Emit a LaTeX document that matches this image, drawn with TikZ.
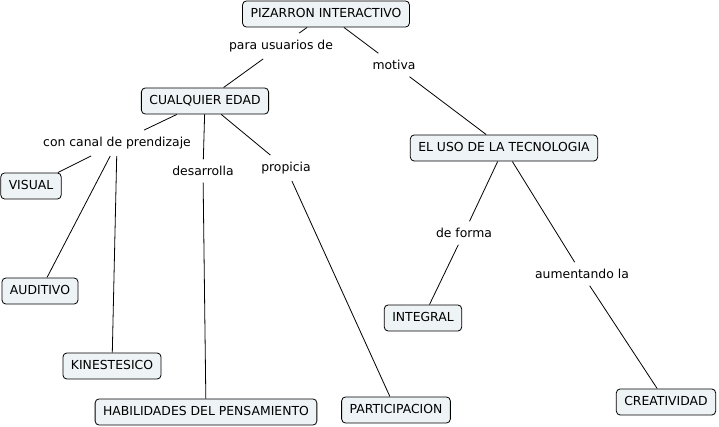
\documentclass[tikz,border=0pt]{standalone}
\usepackage{fontspec}
\setmainfont{DejaVu Sans}
\usepackage{xcolor}
\usetikzlibrary{positioning}
\definecolor{cmapfill}{RGB}{238,243,246}

\begin{document}
\begin{tikzpicture}[
    x=0.75pt, y=-0.75pt,
    concept/.style={draw, rounded corners=3pt, fill=cmapfill, line width=0.6pt, font=\fontsize{9.3}{11}\selectfont, text height=7pt, text depth=2pt, inner xsep=6pt, inner ysep=5.3pt},
    link/.style={font=\fontsize{9.3}{11}\selectfont, inner xsep=3pt, inner ysep=5pt},
    line/.style={line width=0.6pt}
]
    \useasboundingbox (0,0) rectangle (719,427);

    \node[concept] (pizarron) at (326,14) {PIZARRON INTERACTIVO};
    \node[concept] (edad) at (205,101) {CUALQUIER EDAD};
    \node[concept] (tecnologia) at (504,148) {EL USO DE LA TECNOLOGIA};
    \node[concept] (visual) at (31,186) {VISUAL};
    \node[concept] (auditivo) at (40,291) {AUDITIVO};
    \node[concept] (kinestesico) at (112,366) {KINESTESICO};
    \node[concept] (habilidades) at (206,412) {HABILIDADES DEL PENSAMIENTO};
    \node[concept] (participacion) at (396,410) {PARTICIPACION};
    \node[concept] (integral) at (423,318) {INTEGRAL};
    \node[concept] (creatividad) at (666,402) {CREATIVIDAD};

    \node[link] (usuarios) at (281,46) {para usuarios de};
    \node[link] (motiva) at (394,65) {motiva};
    \node[link] (canal) at (117,143) {con canal de prendizaje};
    \node[link] (desarrolla) at (203,171) {desarrolla};
    \node[link] (propicia) at (286,168) {propicia};
    \node[link] (deforma) at (464,233) {de forma};
    \node[link] (aumentando) at (582,274) {aumentando la};

    \draw[line] (pizarron) -- (usuarios);
    \draw[line] (usuarios) -- (edad);
    \draw[line] (pizarron) -- (motiva);
    \draw[line] (motiva) -- (tecnologia);
    \draw[line] (edad) -- (canal);
    \draw[line] (canal) -- (visual);
    \draw[line] (canal) -- (auditivo);
    \draw[line] (canal) -- (kinestesico);
    \draw[line] (edad) -- (desarrolla);
    \draw[line] (desarrolla) -- (habilidades);
    \draw[line] (edad) -- (propicia);
    \draw[line] (propicia) -- (participacion);
    \draw[line] (tecnologia) -- (deforma);
    \draw[line] (deforma) -- (integral);
    \draw[line] (tecnologia) -- (aumentando);
    \draw[line] (aumentando) -- (creatividad);
\end{tikzpicture}
\end{document}
